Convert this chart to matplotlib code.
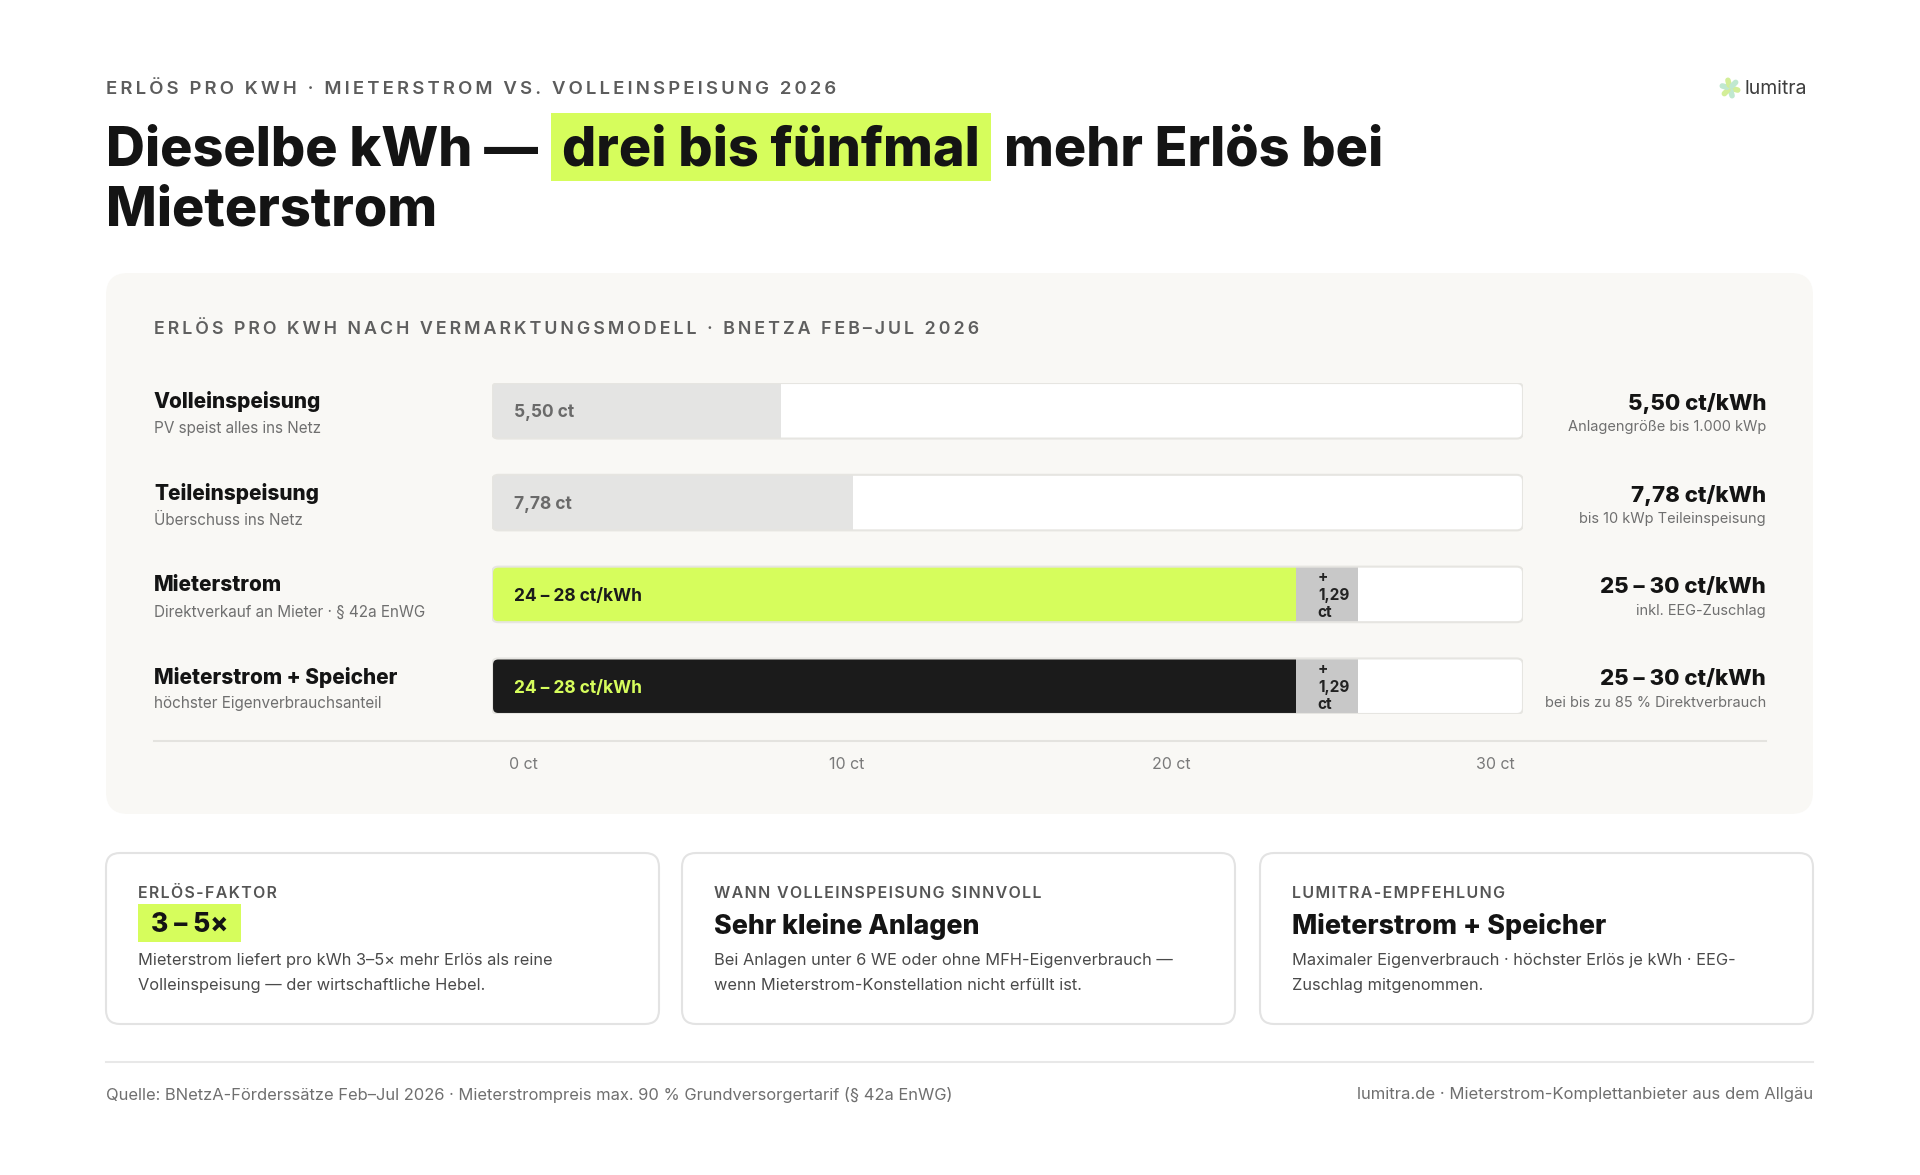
import numpy as np
import matplotlib.pyplot as plt
from matplotlib.patches import FancyBboxPatch
from matplotlib.transforms import blended_transform_factory

plt.rcParams['font.family'] = ['Inter', 'DejaVu Sans']

# --- data -------------------------------------------------------------
models = ["Volleinspeisung", "Teileinspeisung", "Mieterstrom", "Mieterstrom + Speicher"]
model_notes = ["PV speist alles ins Netz", "Überschuss ins Netz",
               "Direktverkauf an Mieter · § 42a EnWG", "höchster Eigenverbrauchsanteil"]
bar_pct = [28, 35, 78, 78]          # bar length as drawn, % of track
eeg_pct = [0, 0, 6, 6]              # EEG surcharge segment, % of track
bar_text = ["5,50 ct", "7,78 ct", "24 – 28 ct/kWh", "24 – 28 ct/kWh"]
eeg_text = "+\n1,29\nct"
value_text = ["5,50 ct/kWh", "7,78 ct/kWh", "25 – 30 ct/kWh", "25 – 30 ct/kWh"]
value_notes = ["Anlagengröße bis 1.000 kWp", "bis 10 kWp Teileinspeisung",
               "inkl. EEG-Zuschlag", "bei bis zu 85 % Direktverbrauch"]
tick_labels = ["0 ct", "10 ct", "20 ct", "30 ct"]

card_labels = ["ERLÖS-FAKTOR", "WANN VOLLEINSPEISUNG SINNVOLL", "LUMITRA-EMPFEHLUNG"]
card_heads = ["3 – 5×", "Sehr kleine Anlagen", "Mieterstrom + Speicher"]
card_bodies = [
    ["Mieterstrom liefert pro kWh 3–5× mehr Erlös als reine",
     "Volleinspeisung — der wirtschaftliche Hebel."],
    ["Bei Anlagen unter 6 WE oder ohne MFH-Eigenverbrauch —",
     "wenn Mieterstrom-Konstellation nicht erfüllt ist."],
    ["Maximaler Eigenverbrauch · höchster Erlös je kWh · EEG-",
     "Zuschlag mitgenommen."],
]

LIME = "#d6fd5c"
DARK = "#1b1b1b"
GREY_TXT = "#6f6f6f"


def spaced(s, gap="\u200a"):
    return gap.join(s)


fig = plt.figure(figsize=(19.2, 11.75), dpi=100)
fig.patch.set_facecolor("white")
renderer = fig.canvas.get_renderer()

# layout axes in pixel units
bg = fig.add_axes([0, 0, 1, 1], zorder=0)
bg.set_xlim(0, 1920)
bg.set_ylim(1175, 0)
bg.axis("off")


def right_edge(t):
    bb = t.get_window_extent(renderer)
    return bg.transData.inverted().transform((bb.x1, bb.y0))[0]


# header
bg.text(106, 90, spaced("ERLÖS PRO KWH · MIETERSTROM VS. VOLLEINSPEISUNG 2026", "\u2009"),
        fontsize=13.35, weight="semibold", color="#5c5c5c", va="center")
title_kw = dict(fontsize=38.8, weight="heavy", color="#141414", va="center")
t1 = bg.text(106, 151, "Dieselbe kWh —", **title_kw)
box_x = right_edge(t1) + 13
t2 = bg.text(box_x + 11, 151, "drei bis fünfmal", zorder=3, **title_kw)
box_end = right_edge(t2) + 11
bg.add_patch(FancyBboxPatch((box_x, 113), box_end - box_x, 68,
                            boxstyle="square,pad=0", fc=LIME, ec="none", zorder=2))
bg.text(box_end + 13, 151, "mehr Erlös bei", **title_kw)
bg.text(106, 211, "Mieterstrom", **title_kw)

# logo
for k, ang in enumerate(np.arange(0, 360, 60)):
    a = np.deg2rad(ang + 15)
    bg.plot([1730 + 3 * np.cos(a), 1730 + 8 * np.cos(a)],
            [88 + 3 * np.sin(a), 88 + 8 * np.sin(a)],
            color=["#d3ee98", "#c0e8d0"][k % 2], lw=4, solid_capstyle="round")
bg.text(1745, 89, "lumitra", fontsize=14, color="#3d3d3d", va="center")

# chart panel
bg.add_patch(FancyBboxPatch((106, 273), 1707, 541,
                            boxstyle="round,pad=0,rounding_size=22",
                            fc="#f9f8f5", ec="none"))
bg.text(154, 330, spaced("ERLÖS PRO KWH NACH VERMARKTUNGSMODELL · BNETZA FEB–JUL 2026", "\u2009"),
        fontsize=12.85, weight="semibold", color="#5f5f5f", va="center")
bg.plot([154, 1766], [741, 741], color="#e4e3df", lw=1.5)

# bar axes
ax = fig.add_axes([492 / 1920, 1 - 714 / 1175, 1031 / 1920, 331 / 1175], zorder=2)
ax.patch.set_alpha(0)
h = 0.605
ax.set_xlim(0, 100)
ax.set_ylim(3 + h / 2, -h / 2)
for s in ax.spines.values():
    s.set_visible(False)
ax.set_yticks([])
ax.set_xticks(np.linspace(3, 97.3, len(tick_labels)), tick_labels)
ax.tick_params(axis="x", length=0, pad=31, labelsize=11.5, labelcolor="#7a7a7a")

asp = (1031 / 100) / (331 / (3 + h))
y = np.arange(len(models))
main_colors = ["#e4e4e3", "#e4e4e3", LIME, DARK]
txt_colors = ["#6a6a6a", "#6a6a6a", DARK, LIME]

for i in y:
    track = FancyBboxPatch((0, i - h / 2), 100, h,
                           boxstyle="round,pad=0,rounding_size=0.6",
                           mutation_aspect=asp, fc="white", ec="none", zorder=1)
    ax.add_patch(track)
    bars = ax.barh([i], [bar_pct[i]], height=h, color=main_colors[i], zorder=2)
    bars2 = ax.barh([i], [eeg_pct[i]], left=[bar_pct[i]], height=h,
                    color="#c8c8c8", zorder=2)
    for b in list(bars) + list(bars2):
        b.set_clip_path(track)
    ax.add_patch(FancyBboxPatch((0, i - h / 2), 100, h,
                                boxstyle="round,pad=0,rounding_size=0.6",
                                mutation_aspect=asp, fc="none", ec="#e6e5e1",
                                lw=1.5, zorder=3))
    ax.text(2.1, i + 0.02, bar_text[i], fontsize=12.5, weight="bold",
            color=txt_colors[i], va="center", zorder=4)
    if eeg_pct[i]:
        ax.text(bar_pct[i] + 2.1, i + 0.01, eeg_text, fontsize=11, weight="bold",
                color="#222222", va="center", linespacing=1.2, zorder=4)

# row labels left and right
tr = blended_transform_factory(bg.transData, ax.transData)
for i in y:
    bg.text(154, i - 0.1, models[i], transform=tr, fontsize=15, weight="heavy",
            color="#141414", va="center")
    bg.text(154, i + 0.19, model_notes[i], transform=tr, fontsize=11,
            color=GREY_TXT, va="center")
    bg.text(1766, i - 0.08, value_text[i], transform=tr, fontsize=16, weight="heavy",
            color="#141414", va="center", ha="right")
    bg.text(1766, i + 0.18, value_notes[i], transform=tr, fontsize=10.5,
            color=GREY_TXT, va="center", ha="right")

# cards
for k, x0 in enumerate([106, 682, 1260]):
    bg.add_patch(FancyBboxPatch((x0, 853), 553, 171,
                                boxstyle="round,pad=0,rounding_size=14",
                                fc="white", ec="#e3e3e3", lw=1.5))
    bg.text(x0 + 32, 893, spaced(card_labels[k]), fontsize=11.5, weight="semibold",
            color="#555555", va="center")
    if k == 0:
        bg.add_patch(FancyBboxPatch((x0 + 32, 904), 103, 38, boxstyle="square,pad=0",
                                    fc=LIME, ec="none"))
        bg.text(x0 + 45, 925, card_heads[k], fontsize=19, weight="heavy",
                color="#141414", va="center")
    else:
        bg.text(x0 + 32, 926, card_heads[k], fontsize=19.3, weight="heavy",
                color="#141414", va="center")
    for j, line in enumerate(card_bodies[k]):
        bg.text(x0 + 32, 961 + 24.5 * j, line, fontsize=11.8, color="#4a4a4a",
                va="center")

# footer
bg.plot([106, 1813], [1062, 1062], color="#e8e8e8", lw=1.5)
bg.text(106, 1095, "Quelle: BNetzA-Förderssätze Feb–Jul 2026 · Mieterstrompreis max. 90 % "
        "Grundversorgertarif (§ 42a EnWG)", fontsize=11.9, color=GREY_TXT, va="center")
bg.text(1813, 1095, "lumitra.de · Mieterstrom-Komplettanbieter aus dem Allgäu",
        fontsize=12, color=GREY_TXT, va="center", ha="right")

fig.savefig("out.png", dpi=100, facecolor="white")
